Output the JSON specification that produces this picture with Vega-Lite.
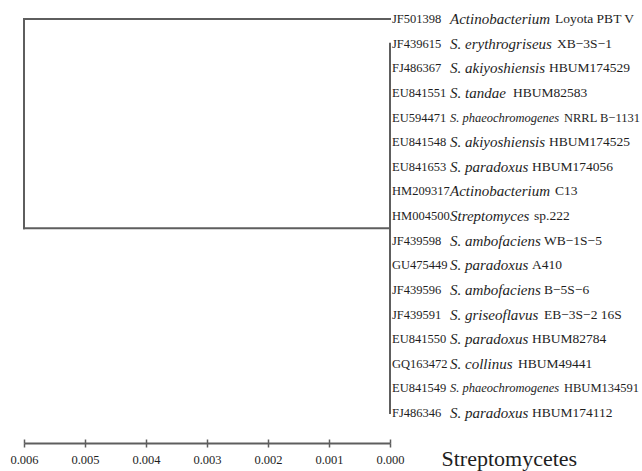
{
  "$schema": "https://vega.github.io/schema/vega-lite/v6.json",
  "width": 366,
  "height": 394,
  "autosize": {"type": "none"},
  "padding": {"left": 24, "top": 19, "right": 252, "bottom": 58},
  "background": "white",
  "config": {"view": {"stroke": null}, "font": "Liberation Serif"},
  "datasets": {
    "edges": [
      {"x1": 0.006, "x2": 0.006, "y1": 1, "y2": 9.5},
      {"x1": 0.006, "x2": 0, "y1": 1, "y2": 1},
      {"x1": 0.006, "x2": 0, "y1": 9.5, "y2": 9.5},
      {"x1": 0, "x2": 0, "y1": 2, "y2": 17}
    ],
    "leaves": [
      {"leaf": 1, "dist": 0, "acc": "JF501398", "species": "Actinobacterium", "strain": "Loyota PBT V"},
      {"leaf": 2, "dist": 0, "acc": "JF439615", "species": "S. erythrogriseus", "strain": "XB−3S−1"},
      {"leaf": 3, "dist": 0, "acc": "FJ486367", "species": "S. akiyoshiensis", "strain": "HBUM174529"},
      {"leaf": 4, "dist": 0, "acc": "EU841551", "species": "S. tandae", "strain": "HBUM82583"},
      {"leaf": 5, "dist": 0, "acc": "EU594471", "species": "S. phaeochromogenes", "strain": "NRRL B−1131"},
      {"leaf": 6, "dist": 0, "acc": "EU841548", "species": "S. akiyoshiensis", "strain": "HBUM174525"},
      {"leaf": 7, "dist": 0, "acc": "EU841653", "species": "S. paradoxus", "strain": "HBUM174056"},
      {"leaf": 8, "dist": 0, "acc": "HM209317", "species": "Actinobacterium", "strain": "C13"},
      {"leaf": 9, "dist": 0, "acc": "HM004500", "species": "Streptomyces", "strain": "sp.222"},
      {"leaf": 10, "dist": 0, "acc": "JF439598", "species": "S. ambofaciens", "strain": "WB−1S−5"},
      {"leaf": 11, "dist": 0, "acc": "GU475449", "species": "S. paradoxus", "strain": "A410"},
      {"leaf": 12, "dist": 0, "acc": "JF439596", "species": "S. ambofaciens", "strain": "B−5S−6"},
      {"leaf": 13, "dist": 0, "acc": "JF439591", "species": "S. griseoflavus", "strain": "EB−3S−2 16S"},
      {"leaf": 14, "dist": 0, "acc": "EU841550", "species": "S. paradoxus", "strain": "HBUM82784"},
      {"leaf": 15, "dist": 0, "acc": "GQ163472", "species": "S. collinus", "strain": "HBUM49441"},
      {"leaf": 16, "dist": 0, "acc": "EU841549", "species": "S. phaeochromogenes", "strain": "HBUM134591"},
      {"leaf": 17, "dist": 0, "acc": "FJ486346", "species": "S. paradoxus", "strain": "HBUM174112"}
    ]
  },
  "resolve": {"axis": {"x": "independent"}},
  "layer": [
    {
      "data": {"name": "edges"},
      "mark": {"type": "rule", "color": "#5e5e5e", "strokeWidth": 2, "strokeCap": "square"},
      "encoding": {
        "x": {
          "field": "x1", "type": "quantitative",
          "scale": {"domain": [0, 0.006], "reverse": true, "nice": false, "zero": false},
          "axis": {
            "orient": "bottom", "offset": 30,
            "values": [0, 0.001, 0.002, 0.003, 0.004, 0.005, 0.006], "format": ".3f",
            "grid": false, "domainColor": "#5e5e5e", "domainWidth": 2,
            "tickColor": "#5e5e5e", "tickWidth": 1.5, "tickSize": 4,
            "labelFont": "Liberation Serif", "labelFontSize": 12.5, "labelColor": "#1e1e1e",
            "labelPadding": 6, "labelFlush": false, "labelOverlap": false,
            "title": "Streptomycetes", "titleFont": "Liberation Serif", "titleFontSize": 22,
            "titleFontWeight": "normal", "titleColor": "#1e1e1e", "titleAnchor": "start",
            "titleAlign": "left", "titleBaseline": "alphabetic", "titleX": 417, "titleY": 22
          }
        },
        "x2": {"field": "x2"},
        "y": {
          "field": "y1", "type": "quantitative",
          "scale": {"domain": [1, 17], "reverse": true, "nice": false, "zero": false},
          "axis": null
        },
        "y2": {"field": "y2"}
      }
    },
    {
      "data": {"name": "leaves"},
      "encoding": {
        "x": {
          "field": "dist", "type": "quantitative",
          "axis": {
            "orient": "bottom", "offset": 26,
            "values": [0, 0.001, 0.002, 0.003, 0.004, 0.005, 0.006],
            "domain": false, "labels": false, "grid": false, "title": null,
            "tickColor": "#5e5e5e", "tickWidth": 1.5, "tickSize": 4
          }
        },
        "y": {"field": "leaf", "type": "quantitative", "axis": null}
      },
      "layer": [
        {
          "mark": {"type": "text", "align": "left", "baseline": "middle", "dx": 2, "fontSize": 12.5, "color": "#1e1e1e", "font": "Liberation Serif"},
          "encoding": {"text": {"field": "acc"}}
        },
        {
          "transform": [{"filter": "datum.species != 'S. phaeochromogenes'"}],
          "mark": {"type": "text", "align": "left", "baseline": "middle", "dx": 60, "fontSize": 15, "fontStyle": "italic", "color": "#1e1e1e", "font": "Liberation Serif"},
          "encoding": {"text": {"field": "species"}}
        },
        {
          "transform": [{"filter": "datum.species == 'S. phaeochromogenes'"}],
          "mark": {"type": "text", "align": "left", "baseline": "middle", "dx": 60, "fontSize": 12.5, "fontStyle": "italic", "color": "#1e1e1e", "font": "Liberation Serif"},
          "encoding": {"text": {"field": "species"}}
        },
        {
          "transform": [{"filter": "datum.species == 'Actinobacterium'"}],
          "mark": {"type": "text", "align": "left", "baseline": "middle", "dx": 165, "fontSize": 13.5, "color": "#1e1e1e", "font": "Liberation Serif"},
          "encoding": {"text": {"field": "strain"}}
        },
        {
          "transform": [{"filter": "datum.species == 'S. erythrogriseus'"}],
          "mark": {"type": "text", "align": "left", "baseline": "middle", "dx": 167, "fontSize": 13.5, "color": "#1e1e1e", "font": "Liberation Serif"},
          "encoding": {"text": {"field": "strain"}}
        },
        {
          "transform": [{"filter": "datum.species == 'S. akiyoshiensis'"}],
          "mark": {"type": "text", "align": "left", "baseline": "middle", "dx": 159, "fontSize": 13.5, "color": "#1e1e1e", "font": "Liberation Serif"},
          "encoding": {"text": {"field": "strain"}}
        },
        {
          "transform": [{"filter": "datum.species == 'S. tandae'"}],
          "mark": {"type": "text", "align": "left", "baseline": "middle", "dx": 123, "fontSize": 13.5, "color": "#1e1e1e", "font": "Liberation Serif"},
          "encoding": {"text": {"field": "strain"}}
        },
        {
          "transform": [{"filter": "datum.species == 'S. phaeochromogenes'"}],
          "mark": {"type": "text", "align": "left", "baseline": "middle", "dx": 174, "fontSize": 12.5, "color": "#1e1e1e", "font": "Liberation Serif"},
          "encoding": {"text": {"field": "strain"}}
        },
        {
          "transform": [{"filter": "datum.species == 'S. paradoxus'"}],
          "mark": {"type": "text", "align": "left", "baseline": "middle", "dx": 142, "fontSize": 13.5, "color": "#1e1e1e", "font": "Liberation Serif"},
          "encoding": {"text": {"field": "strain"}}
        },
        {
          "transform": [{"filter": "datum.species == 'Streptomyces'"}],
          "mark": {"type": "text", "align": "left", "baseline": "middle", "dx": 144, "fontSize": 13.5, "color": "#1e1e1e", "font": "Liberation Serif"},
          "encoding": {"text": {"field": "strain"}}
        },
        {
          "transform": [{"filter": "datum.species == 'S. ambofaciens' || datum.species == 'S. griseoflavus'"}],
          "mark": {"type": "text", "align": "left", "baseline": "middle", "dx": 154, "fontSize": 13.5, "color": "#1e1e1e", "font": "Liberation Serif"},
          "encoding": {"text": {"field": "strain"}}
        },
        {
          "transform": [{"filter": "datum.species == 'S. collinus'"}],
          "mark": {"type": "text", "align": "left", "baseline": "middle", "dx": 128, "fontSize": 13.5, "color": "#1e1e1e", "font": "Liberation Serif"},
          "encoding": {"text": {"field": "strain"}}
        }
      ]
    }
  ]
}
